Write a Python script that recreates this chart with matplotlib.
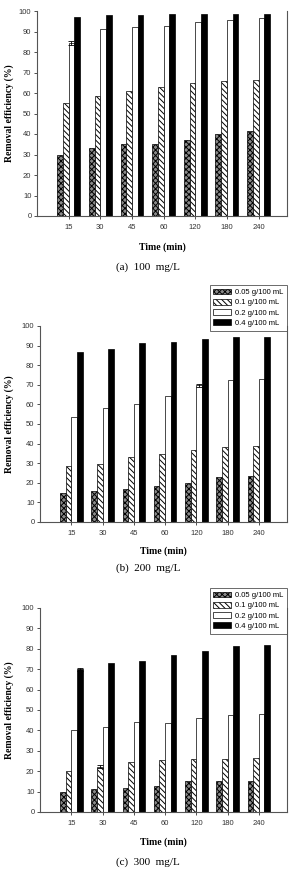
import matplotlib
matplotlib.use("Agg")
import matplotlib.pyplot as plt
import numpy as np

times = ["15", "30", "45", "60", "120", "180", "240"]
doses = ["0.05 g/100 mL", "0.1 g/100 mL", "0.2 g/100 mL", "0.4 g/100 mL"]
captions = ["(a)  100  mg/L", "(b)  200  mg/L", "(c)  300  mg/L"]

# removal efficiency (%) per dose, panel a = 100 mg/L
eff_100 = [
    [29.6, 33.2, 35.0, 35.3, 37.3, 40.0, 41.5],
    [54.9, 58.5, 60.9, 62.9, 64.7, 65.8, 66.4],
    [84.3, 91.0, 92.0, 92.8, 94.5, 95.6, 96.4],
    [97.2, 97.9, 98.0, 98.5, 98.5, 98.5, 98.5],
]
err_100 = [
    [0, 0, 0, 0, 0, 0, 0],
    [0, 0, 0, 0, 0, 0, 0],
    [0.9, 0, 0, 0, 0, 0, 0],
    [0, 0, 0, 0, 0, 0, 0],
]
# panel b = 200 mg/L
eff_200 = [
    [14.8, 16.0, 17.0, 18.2, 19.8, 22.8, 23.7],
    [28.6, 29.8, 33.0, 34.8, 36.5, 38.3, 38.8],
    [53.8, 58.1, 60.0, 64.3, 69.8, 72.7, 72.8],
    [86.9, 88.2, 91.5, 92.0, 93.4, 94.2, 94.2],
]
err_200 = [
    [0, 0, 0, 0, 0, 0, 0],
    [0, 0, 0, 0, 0, 0, 0],
    [0, 0, 0, 0, 0.7, 0, 0],
    [0, 0, 0, 0, 0, 0, 0],
]
# panel c = 300 mg/L
eff_300 = [
    [9.7, 11.3, 11.8, 12.8, 15.0, 15.0, 15.0],
    [20.0, 22.3, 24.3, 25.7, 26.0, 26.0, 26.6],
    [40.0, 41.5, 43.9, 43.6, 45.9, 47.5, 48.0],
    [70.0, 73.0, 74.1, 77.2, 78.7, 81.6, 82.0],
]
err_300 = [
    [0, 0, 0, 0, 0, 0, 0],
    [0, 0.6, 0, 0, 0, 0, 0],
    [0, 0, 0, 0, 0, 0, 0],
    [0.7, 0, 0, 0, 0, 0, 0],
]

plt.rcParams["hatch.linewidth"] = 0.7

W, H = 291, 869
fig = plt.figure(figsize=(W / 100, H / 100), dpi=100)


def px_axes(left, right, top, bottom):
    return fig.add_axes([left / W, 1 - bottom / H, (right - left) / W, (bottom - top) / H])


# (axes box in px, xlabel y, caption y, legend top y or None)
panels = [
    ((37, 287, 11, 216), 247, 267, None, eff_100, err_100),
    ((40, 287, 326, 522), 551, 568, 285, eff_200, err_200),
    ((40, 287, 608, 812), 842, 862, 588, eff_300, err_300),
]

styles = [
    dict(facecolor="#8a8a8a", hatch="xxxxxx"),
    dict(facecolor="white", hatch="\\\\\\\\\\\\"),
    dict(facecolor="white", hatch=""),
    dict(facecolor="black", hatch=""),
]

x = np.arange(len(times))
w = 0.18
serif = "Liberation Serif"
sans = "Liberation Sans"

for (box, xl_y, cap_y, leg_top, eff, err), cap in zip(panels, captions):
    ax = px_axes(*box)
    handles = []
    for i, (vals, e) in enumerate(zip(eff, err)):
        b = ax.bar(x + (i - 1.5) * w, vals, w, edgecolor="black", linewidth=0.5,
                   label=doses[i], zorder=2, **styles[i])
        handles.append(b)
        e = np.array(e)
        m = e > 0
        if m.any():
            ax.errorbar((x + (i - 1.5) * w)[m], np.array(vals)[m], yerr=e[m], fmt="none",
                        ecolor="black", elinewidth=0.6, capsize=2, capthick=0.6, zorder=3)
    ax.set_xlim(-1, 6.9)
    ax.set_ylim(0, 100)
    ax.set_yticks(range(0, 101, 10))
    ax.set_xticks(x)
    ax.set_xticklabels(times)
    for lab in ax.get_xticklabels() + ax.get_yticklabels():
        lab.set_fontfamily(sans)
        lab.set_fontsize(5.5)
    ax.tick_params(axis="y", direction="out", length=2.5, width=0.6, pad=1.5, colors="#333333")
    ax.tick_params(axis="x", direction="inout", length=4, width=0.6, pad=4, colors="#333333")
    ax.spines["top"].set_visible(False)
    for s in ["left", "bottom", "right"]:
        ax.spines[s].set_color("#555555")
        ax.spines[s].set_linewidth(0.8)

    left, right, top, bottom = box
    fig.text(9 / W, 1 - (top + bottom) / 2 / H, "Removal efficiency (%)", rotation=90,
             ha="center", va="center", fontfamily=serif, fontweight="bold", fontsize=7)
    fig.text((left + right) / 2 / W, 1 - xl_y / H, "Time (min)", ha="center", va="center",
             fontfamily=serif, fontweight="bold", fontsize=7)
    fig.text(148 / W, 1 - cap_y / H, cap, ha="center", va="center",
             fontfamily=serif, fontsize=8)

    if leg_top is not None:
        leg = fig.legend(handles=handles, loc="upper right",
                         bbox_to_anchor=(287 / W, 1 - leg_top / H),
                         prop={"family": sans, "size": 5.5}, frameon=True, fancybox=False,
                         handlelength=2.3, handleheight=0.75, handletextpad=0.5,
                         labelspacing=0.35, borderpad=0.5, borderaxespad=0)
        leg.get_frame().set_edgecolor("#444444")
        leg.get_frame().set_linewidth(0.7)

fig.savefig("out.png", dpi=100)
